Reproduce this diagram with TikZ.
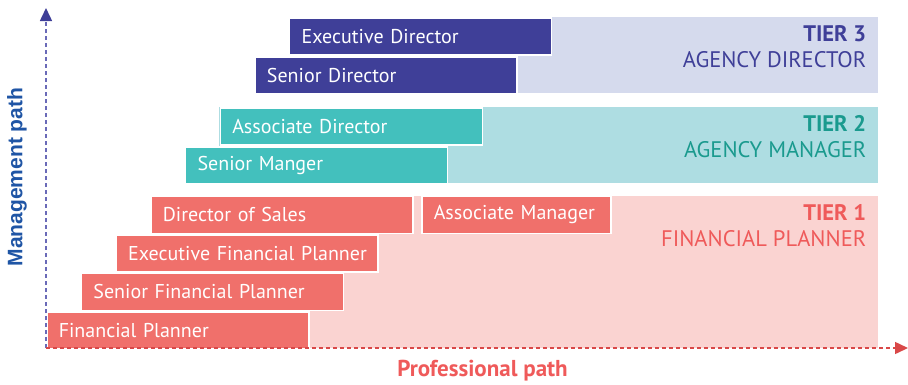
\documentclass[tikz,border=0pt]{standalone}
\usepackage{fontspec}
\setmainfont{PT Sans}
\newfontfamily\mgmtfont{Liberation Sans}
\usepackage{tikz}
\usetikzlibrary{arrows.meta}
\usepackage{xcolor}

\definecolor{dirdark}{HTML}{3F3F98}
\definecolor{dirpale}{HTML}{D5DAED}
\definecolor{mgrdark}{HTML}{43C0BD}
\definecolor{mgrpale}{HTML}{AEDDE2}
\definecolor{mgrtext}{HTML}{1A9A8E}
\definecolor{fpdark}{HTML}{F0706B}
\definecolor{fppale}{HTML}{FAD3D1}
\definecolor{fptext}{HTML}{EF5A5A}
\definecolor{mgmtblue}{HTML}{1F55A5}
\definecolor{axisred}{HTML}{D94848}
\definecolor{axispurple}{HTML}{6A6AB8}

\tikzset{
    rungbox/.style={rectangle, draw=white, line width=1.5pt, anchor=north west,
        text=white, inner xsep=12pt, inner ysep=0pt, text width=238pt, align=left,
        minimum height=37pt, font=\fontsize{20}{22}\selectfont},
    tierbg/.style={rectangle, inner sep=0pt, anchor=north west},
    tiertext/.style={anchor=north east, align=right, inner sep=0pt,
        font=\fontsize{22.5}{26}\selectfont},
    axislabel/.style={font=\bfseries\fontsize{23}{26}\selectfont},
}

\begin{document}
\begin{tikzpicture}[x=1pt, y=-1pt]
    \useasboundingbox (0,0) rectangle (908,384);

    % tier backgrounds
    \node[tierbg, fill=fppale, minimum width=728pt, minimum height=152pt] (tierone) at (150,196) {};
    \node[tierbg, fill=mgrpale, minimum width=659pt, minimum height=76pt] (tiertwo) at (219,107) {};
    \node[tierbg, fill=dirpale, minimum width=589pt, minimum height=76pt] (tierthree) at (289,17) {};

    \node[tiertext, text=fptext] (tieronelab) at ([xshift=-12pt, yshift=-8pt]tierone.north east)
        {\textbf{TIER 1}\\FINANCIAL PLANNER};
    \node[tiertext, text=mgrtext] (tiertwolab) at ([xshift=-12pt, yshift=-8pt]tiertwo.north east)
        {\textbf{TIER 2}\\AGENCY MANAGER};
    \node[tiertext, text=dirdark] (tierthreelab) at ([xshift=-12pt, yshift=-8pt]tierthree.north east)
        {\textbf{TIER 3}\\AGENCY DIRECTOR};

    % the staircase of roles
    \foreach \i/\y/\col/\nm/\txt in {0/311/fpdark/fplanner/Financial Planner,
            1/272.5/fpdark/srfplanner/Senior Financial Planner,
            2/234/fpdark/exfplanner/Executive Financial Planner,
            3/195.5/fpdark/dirsales/Director of Sales,
            4/146/mgrdark/srmanager/Senior Manger,
            5/107/mgrdark/assocdir/Associate Director,
            6/56/dirdark/srdir/Senior Director,
            7/17/dirdark/execdir/Executive Director} {
            \node[rungbox, fill=\col] (\nm) at (46+34.7*\i,\y) {\mbox{\txt}};
        }

    \node[rungbox, fill=fpdark, text width=165pt] (assocmgr) at (421,195.5) {Associate Manager};

    % axes
    \coordinate (origin) at (46,348);
    \coordinate (ytop) at (46,8);
    \coordinate (xend) at (908,348);
    \draw[axispurple, line width=1.5pt, dash pattern=on 4pt off 3pt,
        -{Triangle[length=13pt, width=12pt, color=dirdark]}] (origin) -- (ytop);
    \draw[axisred, line width=1.5pt, dash pattern=on 4pt off 3pt,
        -{Triangle[length=13pt, width=12pt, color=axisred]}] (origin) -- (xend);

    \node[font=\mgmtfont\bfseries\fontsize{21}{24}\selectfont, text=mgmtblue, rotate=90] (mgmtpath) at (17,177) {Management path};
    \node[axislabel, text=fptext] (profpath) at (482.5,371) {Professional path};
\end{tikzpicture}
\end{document}
